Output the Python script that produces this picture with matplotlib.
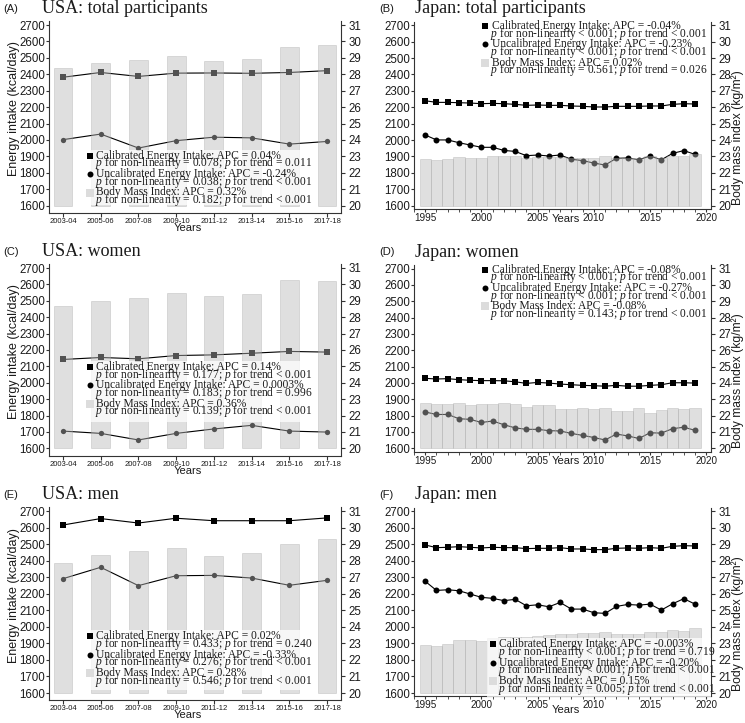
"""
Energy intake (calibrated / uncalibrated) and BMI trends, USA vs Japan.
Six panels: total participants, women, men.
"""

import matplotlib
matplotlib.use('Agg')
import numpy as np
import matplotlib.pyplot as plt
from matplotlib.lines import Line2D
from matplotlib.patches import Rectangle
from matplotlib.ticker import MultipleLocator

W, H = 745, 723

plt.rcParams['font.family'] = ['Liberation Sans', 'DejaVu Sans']
plt.rcParams['mathtext.fontset'] = 'custom'
plt.rcParams['mathtext.rm'] = 'Liberation Serif'
plt.rcParams['mathtext.it'] = 'Liberation Serif:italic'

# ---------------- data ----------------
usa_periods = ['2003-04', '2005-06', '2007-08', '2009-10',
               '2011-12', '2013-14', '2015-16', '2017-18']
jp_years = list(range(1995, 2020))

usa_total_cal = [2382, 2411, 2387, 2407, 2408, 2406, 2411, 2422]
usa_total_uncal = [2002, 2036, 1951, 1996, 2017, 2013, 1975, 1991]
usa_total_bmi = [28.36, 28.67, 28.87, 29.13, 28.79, 28.93, 29.64, 29.78]

usa_women_cal = [2142, 2154, 2146, 2166, 2170, 2180, 2191, 2187]
usa_women_uncal = [1705, 1691, 1651, 1691, 1718, 1740, 1705, 1699]
usa_women_bmi = [28.71, 28.97, 29.17, 29.48, 29.31, 29.42, 30.27, 30.23]

usa_men_cal = [2617, 2656, 2629, 2658, 2643, 2643, 2643, 2660]
usa_men_uncal = [2292, 2361, 2250, 2310, 2312, 2296, 2252, 2282]
usa_men_bmi = [27.85, 28.34, 28.58, 28.80, 28.30, 28.46, 29.02, 29.30]

jp_total_cal = [2240, 2230, 2230, 2228, 2226, 2222, 2224, 2222, 2218, 2212,
                2214, 2212, 2212, 2208, 2206, 2202, 2202, 2206, 2206, 2206,
                2208, 2208, 2218, 2222, 2220]
jp_total_uncal = [2031, 2001, 2001, 1984, 1970, 1956, 1956, 1937, 1931, 1905,
                  1909, 1903, 1909, 1883, 1875, 1860, 1848, 1889, 1891, 1880,
                  1903, 1880, 1919, 1936, 1913]
jp_total_bmi = [22.82, 22.76, 22.82, 22.94, 22.88, 22.88, 23.00, 23.06, 23.02, 22.88,
                22.96, 22.94, 22.98, 22.92, 22.92, 22.92, 23.00, 22.92, 22.92, 22.88,
                23.00, 22.92, 23.06, 23.04, 23.14]

jp_women_cal = [2028, 2024, 2026, 2020, 2016, 2014, 2014, 2013, 2007, 1997,
                2003, 1999, 1993, 1989, 1985, 1983, 1980, 1985, 1980, 1980,
                1985, 1989, 2001, 2001, 1999]
jp_women_uncal = [1822, 1807, 1807, 1781, 1777, 1758, 1767, 1744, 1725, 1716,
                  1716, 1708, 1706, 1691, 1679, 1666, 1651, 1687, 1676, 1660,
                  1695, 1693, 1720, 1729, 1710]
jp_women_bmi = [22.76, 22.72, 22.74, 22.78, 22.65, 22.70, 22.70, 22.78, 22.72, 22.53,
                22.65, 22.63, 22.42, 22.42, 22.49, 22.42, 22.49, 22.27, 22.29, 22.44,
                22.19, 22.36, 22.49, 22.40, 22.47]

jp_men_cal = [2496, 2480, 2482, 2486, 2482, 2478, 2482, 2480, 2480, 2474,
              2476, 2476, 2480, 2472, 2472, 2468, 2468, 2476, 2478, 2476,
              2480, 2476, 2488, 2492, 2490]
jp_men_uncal = [2276, 2221, 2225, 2219, 2199, 2179, 2173, 2159, 2167, 2128,
                2134, 2122, 2148, 2108, 2108, 2086, 2082, 2124, 2136, 2132,
                2138, 2102, 2140, 2171, 2138]
jp_men_bmi = [22.88, 22.86, 22.94, 23.18, 23.18, 23.12, 23.34, 23.40, 23.40, 23.40,
              23.46, 23.53, 23.55, 23.58, 23.62, 23.62, 23.68, 23.60, 23.55, 23.55,
              23.67, 23.71, 23.81, 23.77, 23.93]

legend_texts = {
    'A': [('Calibrated Energy Intake: APC = 0.04%', '= 0.078', '= 0.011'),
          ('Uncalibrated Energy Intake: APC = -0.24%', '= 0.038', '< 0.001'),
          ('Body Mass Index: APC = 0.32%', '= 0.182', '< 0.001')],
    'B': [('Calibrated Energy Intake: APC = -0.04%', '< 0.001', '< 0.001'),
          ('Uncalibrated Energy Intake: APC = -0.23%', '< 0.001', '< 0.001'),
          ('Body Mass Index: APC = 0.02%', '= 0.561', '= 0.026')],
    'C': [('Calibrated Energy Intake: APC = 0.14%', '= 0.177', '< 0.001'),
          ('Uncalibrated Energy Intake: APC = 0.0003%', '= 0.183', '= 0.996'),
          ('Body Mass Index: APC = 0.36%', '= 0.139', '< 0.001')],
    'D': [('Calibrated Energy Intake: APC = -0.08%', '< 0.001', '< 0.001'),
          ('Uncalibrated Energy Intake: APC = -0.27%', '< 0.001', '< 0.001'),
          ('Body Mass Index: APC = -0.08%', '= 0.143', '< 0.001')],
    'E': [('Calibrated Energy Intake: APC = 0.02%', '= 0.433', '= 0.240'),
          ('Uncalibrated Energy Intake: APC = -0.33%', '= 0.276', '< 0.001'),
          ('Body Mass Index: APC = 0.28%', '= 0.546', '< 0.001')],
    'F': [('Calibrated Energy Intake: APC = -0.003%', '< 0.001', '= 0.719'),
          ('Uncalibrated Energy Intake: APC = -0.20%', '< 0.001', '< 0.001'),
          ('Body Mass Index: APC = 0.15%', '= 0.005', '< 0.001')],
}

# ---------------- styles ----------------
BAR_FACE = (0.72, 0.72, 0.72, 0.45)
BAR_EDGE = (0.62, 0.62, 0.62, 0.35)
TXT = '#1a1a1a'
SERIF = 'Liberation Serif'


def px(x, y):
    return x / W, 1 - y / H


def make_axes(fig, xl, xr, y2700, y1600, ymin, ymax):
    k = (y1600 - y2700) / 1100.0
    top = y2700 - (ymax - 2700) * k
    bot = y1600 + (1600 - ymin) * k
    ax = fig.add_axes([xl / W, 1 - bot / H, (xr - xl) / W, (bot - top) / H])
    ax.set_ylim(ymin, ymax)
    ax2 = ax.twinx()
    ax2.set_ylim(20 + (ymin - 1600) / 100.0, 20 + (ymax - 1600) / 100.0)

    for s in ['top', 'right']:
        ax.spines[s].set_visible(False)
    for s in ['top', 'left', 'bottom']:
        ax2.spines[s].set_visible(False)
    for a in (ax, ax2):
        for s in a.spines.values():
            s.set_linewidth(0.8)
            s.set_color('#333333')

    ax.set_yticks(range(1600, 2701, 100))
    ax2.set_yticks(range(20, 32))
    ax.tick_params(axis='y', direction='out', length=2, width=0.8,
                   labelsize=8.3, pad=1.0, colors='#333333', labelcolor=TXT)
    ax2.tick_params(axis='y', direction='out', length=3, width=0.8,
                    labelsize=8.3, pad=2.5, colors='#333333', labelcolor=TXT)
    return ax, ax2


def draw_series(ax, ax2, x, cal, uncal, bmi, width, ms):
    ax.plot(x, cal, '-', color='k', lw=0.8, marker='s', ms=ms, mew=0, zorder=3)
    ax.plot(x, uncal, '-', color='k', lw=0.8, marker='o', ms=ms, mew=0, zorder=3)
    ax2.bar(x, np.array(bmi) - 20, bottom=20, width=width,
            facecolor=BAR_FACE, edgecolor=BAR_EDGE, linewidth=0.6)


def draw_legend(fig, mx, y0, entries, box=None):
    if box is not None:
        bx0, by0, bx1, by1 = box
        fx0, fy1 = px(bx0, by0)
        fx1, fy0 = px(bx1, by1)
        fig.add_artist(Rectangle((fx0, fy0), fx1 - fx0, fy1 - fy0,
                                 transform=fig.transFigure, facecolor='white',
                                 edgecolor='none', alpha=0.75, zorder=1))
    markers = [('s', 'k', 4.0), ('o', 'k', 4.3), ('s', '#dcdcdc', 5.5)]
    for i, (head, nonlin, trend) in enumerate(entries):
        y = y0 + i * 18.4
        m, c, s = markers[i]
        fig.add_artist(Line2D([mx / W], [1 - y / H], marker=m, color=c, ms=s,
                              mew=0, linestyle='none',
                              transform=fig.transFigure, zorder=4))
        fx, fy = px(mx + 6.5, y)
        fig.text(fx, fy, head, family=SERIF, fontsize=8.3, va='center',
                 ha='left', color=TXT, zorder=4)
        line2 = '$p$ for non-linearity %s; $p$ for trend %s' % (nonlin, trend)
        fx, fy = px(mx + 5.0, y + 7.6)
        fig.text(fx, fy, line2, family=SERIF, fontsize=8.3, va='center',
                 ha='left', color=TXT, zorder=4)


def panel_title(fig, x_lab, x_title, base, tag, title):
    fx, fy = px(x_lab, base - 1.5)
    fig.text(fx, fy, tag, fontsize=8, va='baseline', ha='left', color=TXT)
    fx, fy = px(x_title, base)
    fig.text(fx, fy, title, family=SERIF, fontsize=13, va='baseline',
             ha='left', color=TXT)


def usa_panel(fig, y2700, y1600, cal, uncal, bmi, tag, title, leg_y, box):
    ax, ax2 = make_axes(fig, 49, 341, y2700, y1600, 1556, 2726)
    x = np.arange(len(usa_periods))
    draw_series(ax, ax2, x, cal, uncal, bmi, 0.5, 3.8)
    ax.set_xlim(-0.37, 7.37)
    ax.set_xticks(x)
    ax.set_xticklabels(usa_periods)
    ax.tick_params(axis='x', direction='out', length=3, width=0.8,
                   labelsize=5.5, pad=0.6, colors='#333333', labelcolor=TXT)
    fx, fy = px(188, y1600 + 22.5)
    fig.text(fx, fy, 'Years', fontsize=8, ha='center', va='center', color=TXT)
    fx, fy = px(14, y2700 + 84)
    fig.text(fx, fy, 'Energy intake (kcal/day)', fontsize=9, rotation=90,
             ha='center', va='center', color=TXT)
    panel_title(fig, 3, 41.5, y2700 - 12, tag, title)
    draw_legend(fig, 90, leg_y, legend_texts[tag[1]], box)


def japan_panel(fig, y2700, y1600, cal, uncal, bmi, tag, title, leg_x, leg_y,
                box, years_dy):
    ax, ax2 = make_axes(fig, 414, 711, y2700, y1600, 1580, 2722)
    draw_series(ax, ax2, jp_years, cal, uncal, bmi, 1.0, 4.3)
    ax.set_xlim(1994.0, 2020.42)
    ax.set_xticks(range(1995, 2021, 5))
    ax.xaxis.set_minor_locator(MultipleLocator(1))
    ax.tick_params(axis='x', which='major', direction='out', length=2.5,
                   width=0.8, labelsize=7.1, pad=0.5, colors='#333333',
                   labelcolor=TXT)
    ax.tick_params(axis='x', which='minor', direction='out', length=1.8,
                   width=0.6, colors='#333333')
    fx, fy = px(566, y1600 + years_dy)
    fig.text(fx, fy, 'Years', fontsize=8, ha='center', va='center', color=TXT)
    fx, fy = px(738, y2700 + 112)
    fig.text(fx, fy, 'Body mass index (kg/m²)', fontsize=8.7, rotation=90,
             ha='center', va='center', color=TXT)
    panel_title(fig, 379, 415, y2700 - 12, tag, title)
    draw_legend(fig, leg_x, leg_y, legend_texts[tag[1]], box)


def main():
    fig = plt.figure(figsize=(W / 100, H / 100), dpi=100)

    usa_panel(fig, 25.0, 205.7, usa_total_cal, usa_total_uncal, usa_total_bmi,
              '(A)', 'USA: total participants', 155.7, (84, 150, 310, 205))
    usa_panel(fig, 268.0, 448.3, usa_women_cal, usa_women_uncal, usa_women_bmi,
              '(C)', 'USA: women', 367.0, (84, 361, 310, 422))
    usa_panel(fig, 511.3, 693.0, usa_men_cal, usa_men_uncal, usa_men_bmi,
              '(E)', 'USA: men', 636.3, (84, 630, 310, 690))

    japan_panel(fig, 25.3, 205.7, jp_total_cal, jp_total_uncal, jp_total_bmi,
                '(B)', 'Japan: total participants', 485, 26.0,
                None, 13)
    japan_panel(fig, 268.5, 448.3, jp_women_cal, jp_women_uncal, jp_women_bmi,
                '(D)', 'Japan: women', 485, 269.5,
                None, 13)
    japan_panel(fig, 511.3, 693.0, jp_men_cal, jp_men_uncal, jp_men_bmi,
                '(F)', 'Japan: men', 492.7, 644.3,
                (487, 638, 711, 697), 17)

    fig.savefig('out.png', dpi=100)
    plt.close(fig)


if __name__ == '__main__':
    main()
